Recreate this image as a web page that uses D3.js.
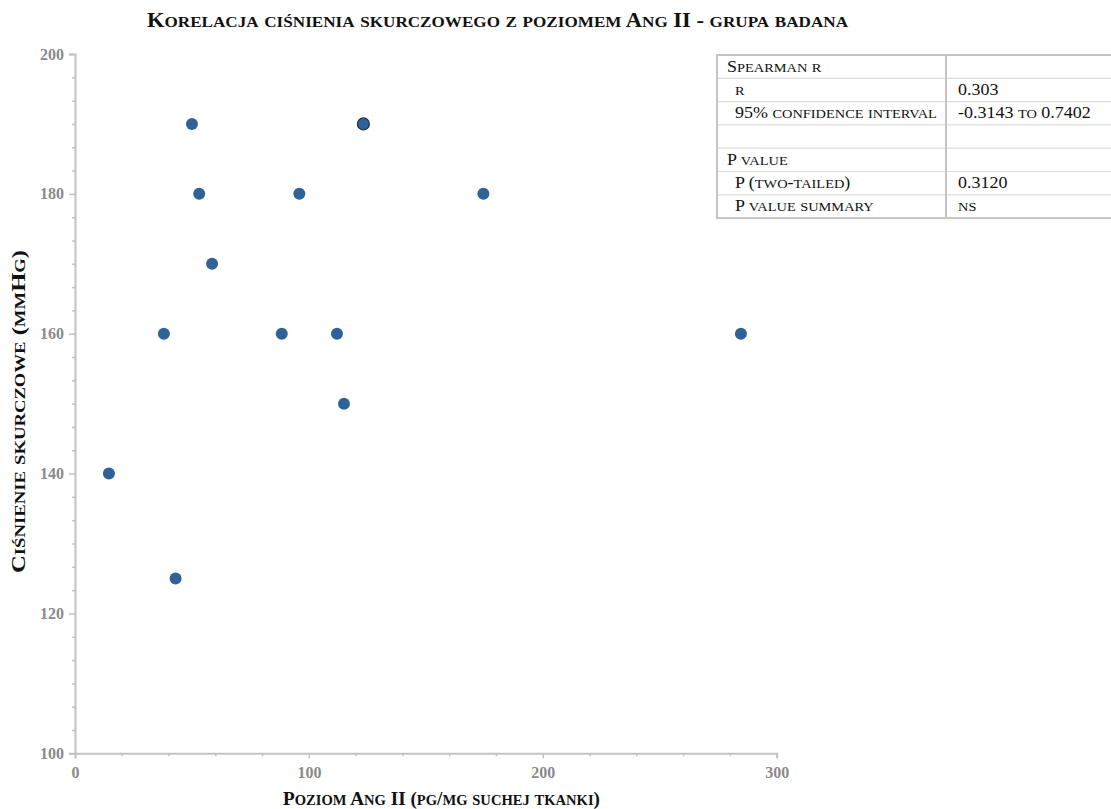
<!DOCTYPE html>
<html>
<head>
<meta charset="utf-8">
<script src="https://cdn.jsdelivr.net/npm/d3@7"></script>
<style>
  html, body { margin: 0; padding: 0; background: #fff; }
  svg { display: block; }
  text { font-family: "Liberation Serif", serif; }
</style>
</head>
<body>
<svg id="chart" width="1111" height="809"></svg>
<script>
// Ang II level (pg/mg dry tissue) vs systolic pressure (mmHg), study group
const angII = [14.5, 38.0, 43.0, 50.0, 53.1, 58.6, 88.4, 95.9, 112.0, 115.0, 123.3, 174.6, 284.7];
const systolic = [140, 160, 125, 190, 180, 170, 160, 180, 160, 150, 190, 180, 160];

const xTicks = [0, 100, 200, 300];
const yTicks = [100, 120, 140, 160, 180, 200];

const statLabels = ["Spearman r", "r", "95% confidence interval", "", "P value", "P (two-tailed)", "P value summary"];
const statValues = ["", "0.303", "-0.3143 to 0.7402", "", "", "0.3120", "ns"];
const statIndent = [false, true, true, false, false, true, true];

const titleText = "Korelacja ciśnienia skurczowego z poziomem Ang II - grupa badana";
const xTitle = "Poziom Ang II (pg/mg suchej tkanki)";
const yTitle = "Ciśnienie skurczowe (mmHg)";

const svg = d3.select("#chart");
const plotLeft = 75, plotRight = 776.7, plotTop = 54, plotBottom = 753.3;

const x = d3.scaleLinear().domain([0, 300]).range([plotLeft, plotRight]);
const y = d3.scaleLinear().domain([100, 200]).range([plotBottom, plotTop]);

const axisColor = "#c2c2c2";
const tickLabelColor = "#8a8a8a";
const serif = "'Liberation Serif', serif";

// Small caps: lowercase runs become smaller uppercase tspans
function smallCaps(sel, str, size, ratio) {
  const runs = [];
  for (const ch of str) {
    const small = ch !== ch.toUpperCase();
    const last = runs[runs.length - 1];
    if (last && last.small === small) last.t += ch;
    else runs.push({ t: ch, small });
  }
  sel.style("font-family", serif)
    .selectAll("tspan")
    .data(runs)
    .join("tspan")
    .attr("font-size", d => d.small ? size * ratio : size)
    .text(d => d.small ? d.t.toUpperCase() : d.t);
}

// Place a text line at (cx, cy), optionally rotated, stretched horizontally to a given width
function placeText(sel, cx, cy, width, rotate = 0) {
  const w = sel.node().getComputedTextLength();
  const sx = width ? width / w : 1;
  sel.attr("transform", `translate(${cx},${cy}) rotate(${rotate}) scale(${sx},1)`);
}

// Minor ticks
const xMinor = d3.range(0, 301, 20).filter(v => !xTicks.includes(v));
const yMinor = d3.range(0, 31).map(i => 100 + i * 10 / 3).filter((v, i) => i % 6 !== 0);

function styleAxis(g) {
  g.select(".domain").attr("stroke", axisColor).attr("stroke-width", 2);
  g.selectAll(".tick line").attr("stroke", axisColor).attr("stroke-width", 1.5);
  g.selectAll(".tick text")
    .attr("fill", tickLabelColor)
    .attr("font-weight", "bold")
    .attr("font-size", 16)
    .style("font-family", serif);
}

// X axis
svg.append("g")
  .attr("transform", `translate(0,${plotBottom})`)
  .call(d3.axisBottom(x).tickValues(xMinor).tickSize(3).tickFormat(""))
  .call(g => { g.select(".domain").remove(); g.selectAll(".tick line").attr("stroke", axisColor).attr("stroke-width", 1.5); });
svg.append("g")
  .attr("transform", `translate(0,${plotBottom})`)
  .call(d3.axisBottom(x).tickValues(xTicks).tickSize(5).tickSizeOuter(5).tickPadding(8).tickFormat(d3.format("d")))
  .call(styleAxis);

// Y axis
svg.append("g")
  .attr("transform", `translate(${plotLeft},0)`)
  .call(d3.axisLeft(y).tickValues(yMinor).tickSize(3).tickFormat(""))
  .call(g => { g.select(".domain").remove(); g.selectAll(".tick line").attr("stroke", axisColor).attr("stroke-width", 1.5); });
svg.append("g")
  .attr("transform", `translate(${plotLeft},0)`)
  .call(d3.axisLeft(y).tickValues(yTicks).tickSize(6).tickSizeOuter(6).tickPadding(5).tickFormat(d3.format("d")))
  .call(styleAxis);

// Points
const points = angII.map((v, i) => ({ x: v, y: systolic[i] }));
const outlinedPoint = 10;
svg.append("g")
  .selectAll("circle")
  .data(points)
  .join("circle")
  .attr("cx", d => x(d.x))
  .attr("cy", d => y(d.y))
  .attr("r", 6)
  .attr("fill", "#2f6397")
  .attr("stroke", (d, i) => i === outlinedPoint ? "#1c2f45" : "none")
  .attr("stroke-width", 1.2);

// Titles
svg.append("text")
  .attr("text-anchor", "middle")
  .attr("font-weight", "bold")
  .attr("fill", "#111")
  .call(smallCaps, titleText, 20.5, 0.76)
  .call(placeText, 497.5, 27, 701);

svg.append("text")
  .attr("text-anchor", "middle")
  .attr("font-weight", "bold")
  .attr("fill", "#111")
  .call(smallCaps, xTitle, 19.5, 0.76)
  .call(placeText, 441.5, 805, 317);

svg.append("text")
  .attr("text-anchor", "middle")
  .attr("font-weight", "bold")
  .attr("fill", "#111")
  .call(smallCaps, yTitle, 19.5, 0.76)
  .call(placeText, 25, (250 + 573) / 2, 323, -90);

// Statistics table
const tLeft = 717, tDiv = 946, tRight = 1111, tTop = 55, rowH = 23.3;
const table = svg.append("g");
const nRows = statLabels.length;
const rowY = d3.range(nRows + 1).map(i => tTop + i * rowH);
const tableStretch = 1.09;

table.selectAll("line.row")
  .data(rowY.slice(1, -1))
  .join("line")
  .attr("class", "row")
  .attr("x1", tLeft).attr("x2", tRight)
  .attr("y1", d => d).attr("y2", d => d)
  .attr("stroke", "#dcdcdc").attr("stroke-width", 1.2);

table.append("line")
  .attr("x1", tDiv).attr("x2", tDiv)
  .attr("y1", tTop).attr("y2", rowY[nRows])
  .attr("stroke", "#c4c4c4").attr("stroke-width", 2);

table.append("rect")
  .attr("x", tLeft).attr("y", tTop)
  .attr("width", tRight - tLeft + 5).attr("height", rowY[nRows] - tTop)
  .attr("fill", "none").attr("stroke", "#c4c4c4").attr("stroke-width", 2);

table.selectAll("text.label")
  .data(statLabels)
  .join("text")
  .attr("class", "label")
  .attr("fill", "#111")
  .each(function (d, i) {
    d3.select(this).call(smallCaps, d, 16.5, 0.8)
      .attr("transform", `translate(${statIndent[i] ? 735 : 727},${rowY[i] + 16.5}) scale(${tableStretch},1)`);
  });

table.selectAll("text.value")
  .data(statValues)
  .join("text")
  .attr("class", "value")
  .attr("fill", "#111")
  .each(function (d, i) {
    d3.select(this).call(smallCaps, d, 16.5, 0.8)
      .attr("transform", `translate(958,${rowY[i] + 16.5}) scale(${tableStretch},1)`);
  });
</script>
</body>
</html>
